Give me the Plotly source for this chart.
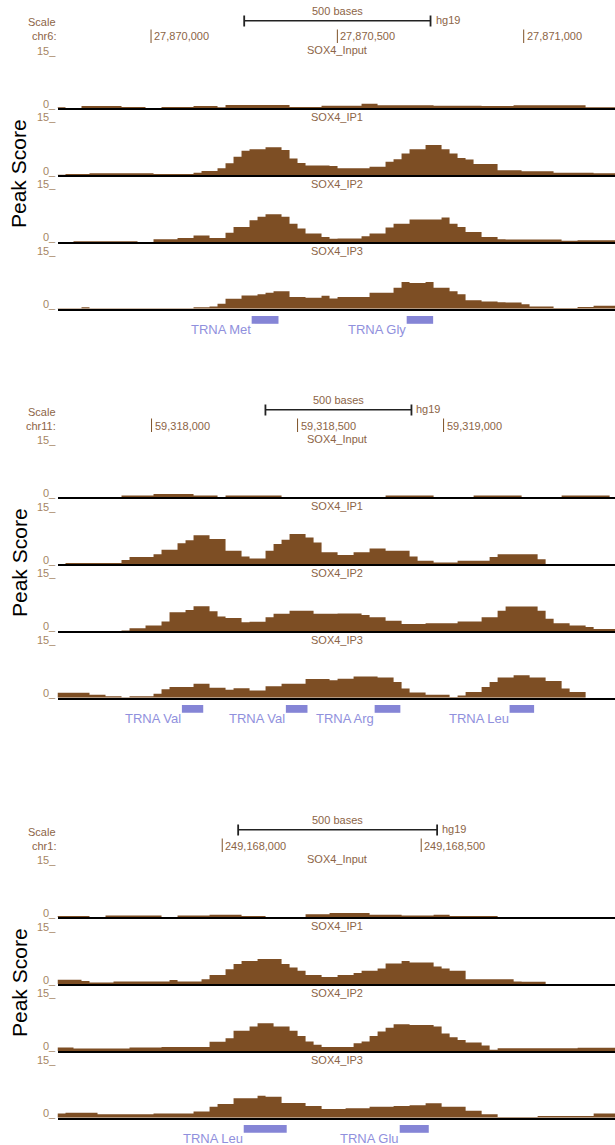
import plotly.graph_objects as go

W, H = 615, 1145

# ---------------- data ----------------
TRACKS = ["SOX4_Input", "SOX4_IP1", "SOX4_IP2", "SOX4_IP3"]
CHROMS = ["chr6:", "chr11:", "chr1:"]
VIEW_START = [27869749, 59317678, 249167586]
VIEW_END = [27871245, 59319587, 249168987]
BIN_SIZE = [21.47, 27.4, 20.11]
TICKS = [[27870000, 27870500, 27871000],
         [59318000, 59318500, 59319000],
         [249168000, 249168500]]
SCALE_START = [27870250, 59318390, 249168040]
SCALE_LEN = 500
ASSEMBLY = "hg19"

P1_INPUT = [0.3,0.1,0.1,0.6,0.6,0.6,0.6,0.6,0.35,0.35,0.35,0,0,0.35,0.35,0.35,0.35,0.6,0.6,0.6,
            0.3,0.9,0.9,0.9,0.9,0.9,0.9,0.9,0.9,0.35,0.35,0.35,0.35,0.7,0.7,0.7,0.7,0.7,1.2,1.2,
            0.8,0.8,0.8,0.8,0.8,0.8,0.8,0.7,0.7,0.7,0.7,0.7,0.7,0.6,0.6,0.6,0.6,0.8,0.8,0.8,
            0.8,0.8,0.8,0.8,0.8,0.8,0.3,0.3,0.3,0.3]
P1_IP1 = [0.1,0.3,0.3,0.3,0.5,0.5,0.5,0.5,0.5,0.5,0.5,0.5,0.3,0.3,0.3,0.3,0.3,0.6,1.1,1.1,
          1.8,3.1,4.8,6.4,6.8,6.8,7.3,7.3,6.6,4.4,3.2,2.5,2.5,2.5,2.4,1.8,1.8,1.8,1.8,2.2,
          2.2,3.5,4.2,5.7,6.8,6.8,7.9,7.9,6.8,5.7,4.5,4.1,2.9,2.9,2.9,1.3,1.3,1.3,1.0,1.0,
          1.0,1.0,0.6,0.6,0.6,0.6,0.6,0.5,0.5,0.5]
P1_IP2 = [0,0,0.2,0.2,0.2,0.2,0.2,0.2,0.2,0.2,0,0,0.7,0.7,0.7,1.05,1.05,1.7,1.7,1.05,
          1.05,2.4,3.9,3.9,5.7,6.6,7.3,7.3,6.6,4.8,3.5,2.2,2.2,1.3,0.8,0.9,0.9,0.9,1.5,2.2,
          2.2,3.8,4.8,4.8,5.9,5.9,5.9,5.9,6.4,4.8,3.9,2.6,2.6,1.3,1.3,0.7,0.6,0.6,0.6,0.6,
          0.6,0.6,0.6,0.3,0.3,0.45,0.45,0.45,0.45,0.45]
P1_IP3 = [0.1,0.1,0.1,0.35,0.1,0.1,0.1,0.1,0.1,0.1,0.1,0.1,0.1,0.1,0.1,0.1,0.1,0.35,0.35,0.6,
          1.3,2.6,2.6,3.5,3.5,3.8,4.2,4.6,4.6,3.1,3.1,2.9,2.9,3.4,2.7,3.1,3.1,3.1,3.1,4.2,
          4.2,4.2,5.5,7.0,6.75,6.75,7.0,5.5,5.5,4.6,3.8,2.2,2.2,1.9,1.9,1.7,1.6,1.6,1.2,0.6,
          0.6,0.6,0.2,0.2,0.2,0.45,0.45,0.8,0.8,0.8]

P2_INPUT = [0.1,0.1,0.1,0.1,0.1,0.1,0.1,0.1,0.45,0.45,0.45,0.45,0.9,0.9,0.9,0.9,0.9,0.5,0.5,0.5,
            0.1,0.45,0.45,0.45,0.45,0.45,0.45,0.45,0.1,0.1,0.1,0.1,0.1,0.1,0.1,0.1,0.1,0.1,0.1,0.1,
            0.1,0.45,0.45,0.45,0.45,0.45,0.45,0.1,0.1,0.1,0.1,0.1,0.45,0.45,0.45,0.45,0.45,0.45,0.1,0.1,
            0.1,0.1,0.1,0.45,0.45,0.45,0.45,0.45,0.45,0.1]
P2_IP1 = [0,0.26,0.26,0.26,0.26,0.26,0.26,0.26,1.05,1.9,1.9,1.9,2.6,3.8,3.8,5.5,6.3,7.6,7.6,6.6,
          6.6,3.5,3.5,2.0,1.5,1.5,3.5,5.3,6.4,7.9,7.9,7.0,5.7,3.1,3.1,2.4,2.4,3.1,3.1,4.1,
          4.1,3.5,3.5,3.5,2.0,0.9,0.9,0.45,0.45,0.45,0.9,0.9,0.9,0.9,1.9,2.6,2.6,2.6,2.6,2.6,
          1.3,0,0,0,0,0,0,0,0,0]
P2_IP2 = [0,0,0,0,0,0,0,0,0.1,0.7,0.7,1.4,1.4,2.5,4.9,4.9,5.5,6.5,6.5,5.2,
          3.8,3.4,3.4,2.3,2.4,2.4,3.6,4.5,4.5,5.3,5.3,5.3,4.5,4.5,4.5,4.6,4.6,4.6,4.2,3.6,
          3.6,2.7,2.7,1.8,1.8,1.8,2.0,2.0,2.0,2.0,2.5,2.5,2.5,3.6,3.6,5.3,6.4,6.4,6.4,6.4,
          5.3,3.2,2.0,2.0,1.4,1.4,1.0,0.5,0.5,0.5]
P2_IP3 = [1.3,1.3,1.3,1.3,0.8,0.8,0.35,0.35,0.1,0.35,0.35,0.35,1.05,2.2,2.8,2.8,2.8,3.7,3.7,2.6,
          2.6,2.1,2.5,2.5,1.9,1.9,3.0,3.0,3.7,3.7,3.7,4.9,4.9,4.9,4.6,5.0,5.0,5.6,5.6,5.6,
          5.3,5.3,4.1,2.4,1.4,1.4,0.8,0.8,0.8,0.2,0.6,1.5,1.5,2.8,4.1,5.3,5.3,5.9,5.9,5.3,
          5.3,4.4,4.4,2.4,1.5,1.5,0,0,0,0]

P3_INPUT = [0.35,0.35,0.35,0.35,0.1,0.1,0.45,0.45,0.45,0.45,0.45,0.45,0.45,0.1,0.1,0.45,0.45,0.45,0.45,0.7,
            0.7,0.7,0.7,0.35,0.35,0.35,0.1,0.1,0.1,0.1,0.1,0.8,0.8,0.8,1.15,1.15,1.15,1.15,1.15,0.7,
            0.7,0.7,0.7,0.45,0.45,0.45,0.45,0.7,0.7,0.35,0.35,0.35,0.35,0.35,0.35,0,0,0,0,0,
            0,0,0,0,0,0,0,0,0,0]
P3_IP1 = [1.15,1.15,1.15,0.8,0.45,0.45,0.45,0.7,0.7,0.7,0.7,0.7,0.7,0.7,1.05,0.7,0.7,0.7,1.3,2.4,
          2.4,3.9,5.3,6.1,6.1,6.6,6.6,6.6,5.3,4.4,3.5,2.4,2.4,1.9,1.9,2.4,2.4,2.9,3.5,3.5,
          4.1,5.4,5.4,6.1,5.7,5.7,5.7,4.6,4.1,3.5,3.5,1.3,1.3,1.3,1.3,1.3,1.3,0.7,0.6,0.6,
          0.6,0,0,0,0,0,0,0,0,0]
P3_IP2 = [0.9,0.9,0.6,0.6,0.6,0.6,0.6,0.6,0.6,0.9,0.9,0.9,0.9,1.0,1.0,1.0,1.0,1.0,1.0,2.4,
          2.4,3.3,5.3,5.3,6.4,7.3,7.3,6.4,6.4,5.3,3.9,2.5,1.6,1.0,1.0,1.0,1.0,2.0,2.5,3.9,
          5.1,6.1,7.0,7.0,6.8,6.8,6.8,6.4,4.6,3.6,2.9,2.2,2.2,1.4,0.3,0.7,0.7,0.7,0.7,0.7,
          0.7,0.7,0.7,0.7,0.7,0.8,0.8,0.8,0.8,0.8]
P3_IP3 = [1.1,1.3,1.3,1.3,1.3,0.9,0.9,0.9,0.9,0.9,0.9,0.9,1.1,1.1,1.1,1.1,1.1,1.6,1.6,2.9,
          3.6,3.6,5.1,5.1,5.1,5.8,5.5,5.5,3.9,3.9,3.9,3.1,3.1,2.3,2.3,2.3,2.5,2.5,2.5,2.9,
          2.9,2.9,3.1,3.1,3.3,3.3,3.8,3.8,2.9,2.9,2.9,1.8,1.8,0.9,0.9,0.2,0.2,0.2,0.2,0.2,
          0.45,0.45,0.45,0.45,0.45,0.45,0.45,1.1,1.1,1.1]

SIGNALS = [[P1_INPUT, P1_IP1, P1_IP2, P1_IP3],
           [P2_INPUT, P2_IP1, P2_IP2, P2_IP3],
           [P3_INPUT, P3_IP1, P3_IP2, P3_IP3]]

GENE_NAMES = [["TRNA Met", "TRNA Gly"],
              ["TRNA Val", "TRNA Val", "TRNA Arg", "TRNA Leu"],
              ["TRNA Leu", "TRNA Glu"]]
GENE_START = [[27870270, 27870686],
              [59318104, 59318460, 59318764, 59319226],
              [249168054, 249168446]]
GENE_END = [[27870342, 27870757],
            [59318177, 59318534, 59318852, 59319310],
            [249168162, 249168519]]

# ---------------- styling / layout helpers ----------------
FONT = "Liberation Sans, Arial, sans-serif"
TXT = "#8C6446"
LIGHT = "#A58563"
BAR = "#7D4E24"
GENE = "#8585D6"
GENE_TXT = "#9090DD"
OFFSETS = [0, 389, 809]
TRACK_BASE = [108.3, 175.1, 241.9, 308.7]
TRACK_H = 57
DATA_LEFT = 57.5


def yp(py):
    return 1 - py / H


def xp(px):
    return px / W


fig = go.Figure()
axes = {}
shapes = []
ann = []


def text(x, y, s, size=11, color=TXT, xanchor="center", xref="paper", xshift=0, angle=0):
    ann.append(dict(x=x, y=y, xref=xref, yref="paper", text=s, showarrow=False,
                    xanchor=xanchor, yanchor="middle", xshift=xshift, textangle=angle,
                    font=dict(family=FONT, size=size, color=color), borderpad=0))


for p in range(3):
    o = OFFSETS[p]
    start, bs = VIEW_START[p], BIN_SIZE[p]
    first = "x" if p == 0 else "x" + str(p * 4 + 1)
    for t in range(4):
        k = p * 4 + t + 1
        sfx = "" if k == 1 else str(k)
        vals = SIGNALS[p][t]
        xs = [start + bs * i for i in range(len(vals) + 1)]
        ys = list(vals) + [vals[-1]]
        fig.add_trace(go.Scatter(x=xs, y=ys, xaxis="x" + sfx, yaxis="y" + sfx, mode="lines",
                                 line=dict(shape="hv", width=0, color=BAR), fill="tozeroy",
                                 fillcolor=BAR, hoverinfo="skip", showlegend=False))
        B = TRACK_BASE[t] + o
        axes["xaxis" + sfx] = dict(domain=[xp(DATA_LEFT), 1], range=[VIEW_START[p], VIEW_END[p]],
                                   anchor="y" + sfx, showline=True, linecolor="black", linewidth=2,
                                   showgrid=False, zeroline=False, showticklabels=False, ticks="",
                                   fixedrange=True)
        axes["yaxis" + sfx] = dict(domain=[yp(B), yp(B - TRACK_H)], range=[0, 15], anchor="x" + sfx,
                                   visible=False, fixedrange=True)
        text(xp(57), yp(B - 57.6), "15_", color=LIGHT, xanchor="right")
        text(xp(57), yp(B - 4.5), "0_", color=LIGHT, xanchor="right")
        text(xp(336.5), yp(B - 58), TRACKS[t], color=TXT)

    # ruler rows
    text(xp(57), yp(22.5 + o), "Scale", xanchor="right")
    text(xp(57), yp(36.5 + o), CHROMS[p], xanchor="right")
    for tk in TICKS[p]:
        shapes.append(dict(type="line", xref=first, yref="paper", x0=tk, x1=tk,
                           y0=yp(29.5 + o), y1=yp(43 + o), line=dict(color="#7E5228", width=1)))
        text(tk, yp(36.5 + o), f"{tk:,}", xanchor="left", xref=first, xshift=2)

    s0, s1 = SCALE_START[p], SCALE_START[p] + SCALE_LEN
    shapes.append(dict(type="line", xref=first, yref="paper", x0=s0, x1=s1,
                       y0=yp(20.7 + o), y1=yp(20.7 + o), line=dict(color="#222222", width=1.5)))
    for sx in (s0, s1):
        shapes.append(dict(type="line", xref=first, yref="paper", x0=sx, x1=sx,
                           y0=yp(15.5 + o), y1=yp(26.5 + o), line=dict(color="#222222", width=1.8)))
    text((s0 + s1) / 2, yp(11 + o), f"{SCALE_LEN} bases", xref=first)
    text(s1, yp(19.5 + o), ASSEMBLY, xanchor="left", xref=first, xshift=4)

    # genes
    for name, g0, g1 in zip(GENE_NAMES[p], GENE_START[p], GENE_END[p]):
        shapes.append(dict(type="rect", xref=first, yref="paper", x0=g0, x1=g1,
                           y0=yp(323.8 + o), y1=yp(316 + o), fillcolor=GENE, line=dict(width=0)))
        text(g0, yp(329.5 + o), name, size=13, color=GENE_TXT, xanchor="right", xref=first)

    text(xp(19), yp(174 + o), "Peak Score", size=21, color="black", angle=-90)

fig.update_layout(width=W, height=H, margin=dict(l=0, r=0, t=0, b=0), autosize=False,
                  paper_bgcolor="white", plot_bgcolor="white", showlegend=False,
                  shapes=shapes, annotations=ann, **axes)
fig.write_html("out.html", config={"displayModeBar": False},
               post_script="document.body.style.margin='0';document.body.style.padding='0';")
